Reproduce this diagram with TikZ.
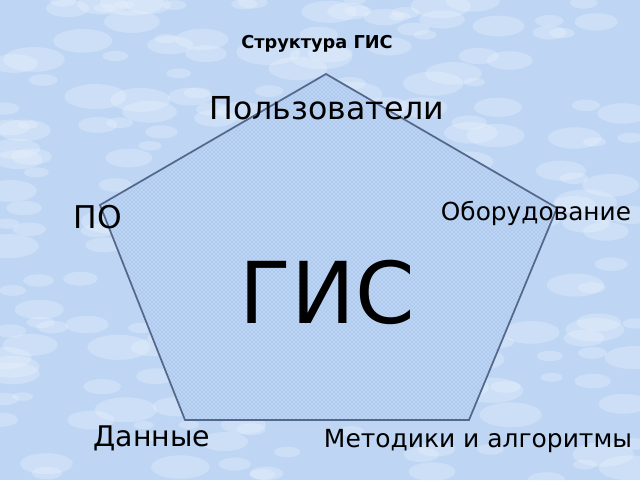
\documentclass[tikz,border=0pt]{standalone}
\usepackage{fontspec}
\setmainfont{DejaVu Sans}
\usetikzlibrary{patterns}
\definecolor{skyblue}{RGB}{190,214,244}
\definecolor{cloudwhite}{RGB}{238,245,253}
\definecolor{pentfill}{RGB}{174,203,239}
\definecolor{pentline}{RGB}{84,104,140}
\tikzset{
  label/.style={inner sep=0pt, text=black},
}
\begin{document}
\begin{tikzpicture}[x=0.75pt,y=-0.75pt]
  \useasboundingbox (0,0) rectangle (640,480);
  \fill[skyblue] (0,0) rectangle (640,480);

  % clouds
  \pgfmathsetseed{11}
  \foreach \i in {1,...,260} {
    \pgfmathsetmacro{\cx}{640*rnd}
    \pgfmathsetmacro{\cy}{480*rnd}
    \pgfmathsetmacro{\rx}{10+22*rnd}
    \fill[cloudwhite,opacity=0.3] (\cx,\cy) ellipse [x radius=\rx, y radius=0.4*\rx];
  }

  \coordinate (top) at (326,74);
  \coordinate (right) at (557,208);
  \coordinate (bright) at (469,420);
  \coordinate (bleft) at (185,420);
  \coordinate (left) at (100,205);

  \fill[pentfill] (top) -- (right) -- (bright) -- (bleft) -- (left) -- cycle;
  \fill[pattern=crosshatch dots, pattern color=white!80!pentfill]
    (top) -- (right) -- (bright) -- (bleft) -- (left) -- cycle;
  \draw[pentline, line width=1.3pt, line join=miter]
    (top) -- (right) -- (bright) -- (bleft) -- (left) -- cycle;

  \node[label, font=\bfseries\fontsize{13.3}{16}\selectfont] (title) at (317,44) {Структура ГИС};
  \node[label, font=\fontsize{23.7}{28}\selectfont] (users) at (327,108) {Пользователи};
  \node[label, font=\fontsize{23.5}{28}\selectfont] (soft) at (98,217) {ПО};
  \node[label, font=\fontsize{18.6}{22}\selectfont] (hard) at (536,213) {Оборудование};
  \node[label, font=\fontsize{64}{72}\selectfont] (gis) at (327,292) {ГИС};
  \node[label, font=\fontsize{21.3}{25}\selectfont] (data) at (152,438) {Данные};
  \node[label, font=\fontsize{18.7}{22}\selectfont] (methods) at (478,441) {Методики и алгоритмы};
\end{tikzpicture}
\end{document}
